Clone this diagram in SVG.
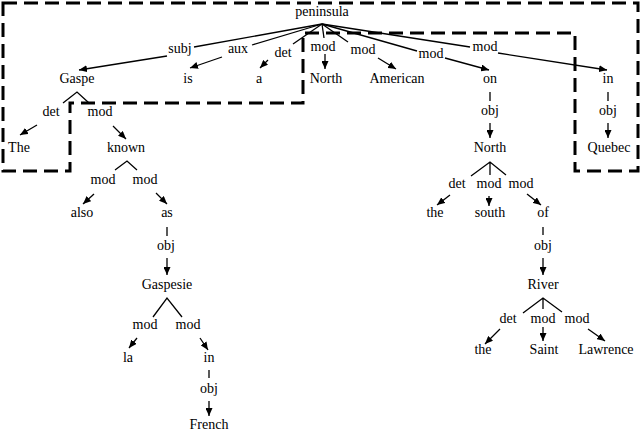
<svg xmlns="http://www.w3.org/2000/svg" width="640" height="431" viewBox="0 0 640 431">
<style>
text{font-family:"Liberation Serif","Times New Roman",serif;font-size:14px;fill:#000;text-anchor:middle}
.e{stroke:#000;stroke-width:1.3;fill:none}
.a{stroke:#000;stroke-width:1.3;fill:none;marker-end:url(#ah)}
.box{stroke:#000;stroke-width:3;fill:none;stroke-dasharray:14 7}
</style>
<defs>
<marker id="ah" markerUnits="userSpaceOnUse" markerWidth="9" markerHeight="7" refX="8" refY="3.5" orient="auto">
<path d="M0,0 L8,3.5 L0,7 z" fill="#000"/>
</marker>
</defs>
<rect width="640" height="431" fill="#fff"/>
<path class="box" d="M3,3 H638 V171 H575 V33 H303 V103 H70 V171 H3 Z"/>
<g id="connectors">
<path class="e" d="M322,24 L194,47"/><path class="a" d="M167,56 L79,70"/>
<path class="e" d="M322,24 L252,45"/><path class="a" d="M222,57 L190,68"/>
<path class="e" d="M322,24 L293,44"/><path class="a" d="M268,60 L260,68"/>
<path class="e" d="M322,24 L324,38"/><path class="a" d="M325,54 L325,69"/>
<path class="e" d="M322,24 L348,42"/><path class="a" d="M378,58 L396,69"/>
<path class="e" d="M322,24 L417,51"/><path class="a" d="M445,58 L489,70"/>
<path class="e" d="M322,24 L470,47"/><path class="a" d="M498,53 L607,70"/>
<path class="e" d="M490,92 V101"/><path class="a" d="M490,123 V138"/>
<path class="e" d="M608,92 V101"/><path class="a" d="M608,123 V138"/>
<path class="e" d="M63,103 L77,92 L89,103"/>
<path class="a" d="M37,125 L20,135"/><path class="a" d="M113,126 L126,139"/>
<path class="e" d="M115,170 L127,161 L137,170"/>
<path class="a" d="M94,194 L83,204"/><path class="a" d="M156,193 L167,204"/>
<path class="e" d="M167,227 V236"/><path class="a" d="M167,258 V275"/>
<path class="e" d="M153,317 L167,298 L182,317"/>
<path class="a" d="M137,338 L129,348"/><path class="a" d="M200,338 L208,350"/>
<path class="e" d="M209,370 V378"/><path class="a" d="M209,401 V416"/>
<path class="e" d="M471,176 L490,162 L506,175 M490,162 V175"/>
<path class="a" d="M450,195 L437,205"/><path class="a" d="M489,196 V206"/><path class="a" d="M527,194 L541,205"/>
<path class="e" d="M543,227 V235"/><path class="a" d="M543,258 V275"/>
<path class="e" d="M523,313 L543,298 L562,312 M543,298 V309"/>
<path class="a" d="M500,329 L485,344"/><path class="a" d="M543,327 V341"/><path class="a" d="M588,329 L605,341"/>
</g>
<g id="edge-labels">
<text x="180" y="53">subj</text>
<text x="238" y="53">aux</text>
<text x="283" y="57">det</text>
<text x="323" y="51">mod</text>
<text x="363" y="54">mod</text>
<text x="431" y="58">mod</text>
<text x="485" y="51">mod</text>
<text x="490" y="115">obj</text>
<text x="608" y="115">obj</text>
<text x="51" y="116">det</text>
<text x="100" y="116">mod</text>
<text x="103" y="184">mod</text>
<text x="145" y="184">mod</text>
<text x="166" y="250">obj</text>
<text x="145" y="329">mod</text>
<text x="188" y="329">mod</text>
<text x="209" y="393">obj</text>
<text x="457" y="188">det</text>
<text x="489" y="188">mod</text>
<text x="521" y="188">mod</text>
<text x="543" y="250">obj</text>
<text x="508" y="323">det</text>
<text x="543" y="323">mod</text>
<text x="577" y="323">mod</text>
</g>
<g id="n-peninsula"><text x="322" y="16">peninsula</text></g>
<g id="n-Gaspe"><text x="77" y="83">Gaspe</text></g>
<g id="n-is"><text x="188" y="83">is</text></g>
<g id="n-a"><text x="259" y="83">a</text></g>
<g id="n-North1"><text x="326" y="83">North</text></g>
<g id="n-American"><text x="397" y="83">American</text></g>
<g id="n-on"><text x="490" y="83">on</text></g>
<g id="n-in1"><text x="608" y="83">in</text></g>
<g id="n-The"><text x="19" y="152">The</text></g>
<g id="n-known"><text x="126" y="152">known</text></g>
<g id="n-North2"><text x="490" y="152">North</text></g>
<g id="n-Quebec"><text x="609" y="152">Quebec</text></g>
<g id="n-also"><text x="82" y="217">also</text></g>
<g id="n-as"><text x="167" y="217">as</text></g>
<g id="n-the1"><text x="435" y="217">the</text></g>
<g id="n-south"><text x="490" y="217">south</text></g>
<g id="n-of"><text x="543" y="217">of</text></g>
<g id="n-Gaspesie"><text x="167" y="289">Gaspesie</text></g>
<g id="n-River"><text x="543" y="289">River</text></g>
<g id="n-la"><text x="128" y="362">la</text></g>
<g id="n-in2"><text x="209" y="362">in</text></g>
<g id="n-the2"><text x="483" y="354">the</text></g>
<g id="n-Saint"><text x="544" y="354">Saint</text></g>
<g id="n-Lawrence"><text x="606" y="354">Lawrence</text></g>
<g id="n-French"><text x="209" y="429">French</text></g>
</svg>
